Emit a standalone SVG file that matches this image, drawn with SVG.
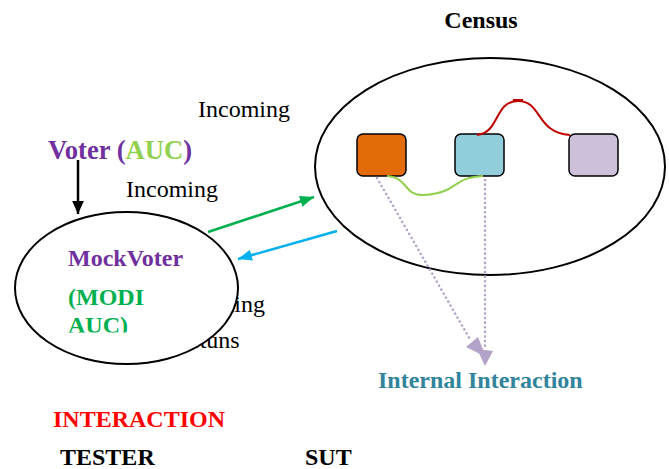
<svg xmlns="http://www.w3.org/2000/svg" width="669" height="469" viewBox="0 0 669 469">
<defs>
<style>
text{font-family:"Liberation Serif","Times New Roman",serif;font-size:24px;}
.b{font-weight:bold;}
.ell{fill:#fff;stroke:#000;stroke-width:2;}
.box{stroke:#000;stroke-width:1.5;}
.dot{fill:none;stroke:#b3a2c7;stroke-width:2.5;stroke-dasharray:0.1 4.5;stroke-linecap:round;}
</style>
<marker id="ahB" viewBox="0 0 10 10" refX="10" refY="5" markerWidth="13" markerHeight="13" markerUnits="userSpaceOnUse" orient="auto"><path d="M0,0.5L10,5L0,9.5z" fill="#000"/></marker>
<marker id="ahG" viewBox="0 0 10 10" refX="10" refY="5" markerWidth="14" markerHeight="14" markerUnits="userSpaceOnUse" orient="auto"><path d="M0,1L10,5L0,9z" fill="#00b050"/></marker>
<marker id="ahC" viewBox="0 0 10 10" refX="10" refY="5" markerWidth="14" markerHeight="14" markerUnits="userSpaceOnUse" orient="auto"><path d="M0,1L10,5L0,9z" fill="#00b0f0"/></marker>
<clipPath id="clipAUC"><rect x="0" y="0" width="669" height="332.5"/></clipPath>
</defs>

<g id="labels-hidden">
<text x="173" y="312">Incoming</text>
<text x="173" y="348">Retuns</text>
</g>

<g id="census">
<text class="b" x="481" y="28" text-anchor="middle">Census</text>
<ellipse class="ell" cx="490" cy="166.5" rx="175" ry="108.5"/>
</g>

<g id="mockvoter">
<ellipse class="ell" cx="126.5" cy="288" rx="111.5" ry="76"/>
<text class="b" x="68" y="266" fill="#7030a0">MockVoter</text>
<text class="b" x="68" y="305" fill="#00b050">(MODI</text>
<text class="b" x="68" y="333" fill="#00b050" clip-path="url(#clipAUC)">AUC)</text>
</g>

<g id="voter">
<text class="b" x="48" y="159" style="font-size:26.6px" fill="#7030a0">Voter (<tspan fill="#92d050">AUC</tspan>)</text>
</g>

<g id="box-orange"><rect class="box" x="357" y="134" width="49" height="42" rx="6" fill="#e36c09"/></g>
<g id="box-blue"><rect class="box" x="455" y="134" width="49" height="42" rx="6" fill="#92cddc"/></g>
<g id="box-purple"><rect class="box" x="569" y="134" width="49" height="42" rx="6" fill="#ccc0da"/></g>

<g id="connectors">
<path d="M477,135 C500,133 494,101 518,101 C542,101 536,133 570,135" fill="none" stroke="#c00000" stroke-width="2"/>
<path d="M513,100.5 L523,100.5" stroke="#c00000" stroke-width="3"/>
<path d="M387,176 C410,178 402,196 425,195 C460,192 450,178 483,176" fill="none" stroke="#92d050" stroke-width="2"/>
<line x1="78" y1="160" x2="78" y2="214" stroke="#000" stroke-width="2.5" marker-end="url(#ahB)"/>
<line x1="208" y1="232" x2="314" y2="197" stroke="#00b050" stroke-width="2.5" marker-end="url(#ahG)"/>
<line x1="337" y1="231" x2="238" y2="259" stroke="#00b0f0" stroke-width="2.5" marker-end="url(#ahC)"/>
<path class="dot" d="M377,178 L471,341"/>
<path class="dot" d="M485,180 L485,350"/>
<path d="M466,347 L478,337 L486,357z" fill="#b3a2c7"/>
<path d="M477,349 L493,351 L485,366z" fill="#b3a2c7"/>
</g>

<g id="texts">
<text x="198" y="117">Incoming</text>
<text x="126" y="197">Incoming</text>
<text class="b" x="378" y="388" fill="#31849b">Internal Interaction</text>
<text class="b" x="53" y="427" fill="#ff0000">INTERACTION</text>
<text class="b" x="60" y="465">TESTER</text>
<text class="b" x="305" y="465">SUT</text>
</g>
</svg>
